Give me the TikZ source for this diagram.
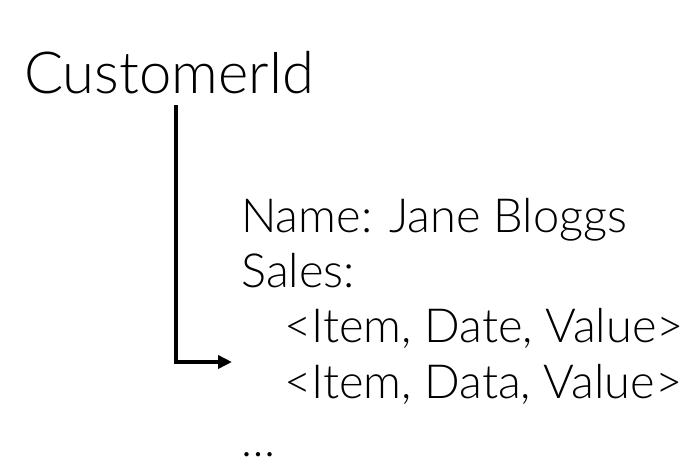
\documentclass[tikz,border=0pt]{standalone}
\usepackage{fontspec}
\setmainfont{Lato}[UprightFont={* Light}]
\usepackage{xcolor}
\usepackage{tikz}
\usetikzlibrary{arrows.meta}

\begin{document}
\begin{tikzpicture}[x=1pt,y=-1pt,
  bigtext/.style={anchor=base west,inner sep=0pt,font=\fontsize{58}{70}\selectfont},
  rectext/.style={anchor=base west,inner sep=0pt,font=\fontsize{47}{55}\selectfont},
  link/.style={line width=4.5pt,-{Triangle[length=14pt,width=13pt]}}]
\useasboundingbox (0,0) rectangle (697,469);
\node[bigtext] (cust) at (24,93) {CustomerId};
\node[rectext] (name) at (241,232) {Name: Jane Bloggs};
\node[rectext] (sales) at (241,287) {Sales:};
\node[rectext] (item1) at (284,342) {<Item, Date, Value>};
\node[rectext] (item2) at (284,398) {<Item, Data, Value>};
\node[rectext] (more) at (241,456) {\dots};
\coordinate (top) at (176,105);
\coordinate (tip) at (232,362);
\draw[link] (top) |- (tip);
\end{tikzpicture}
\end{document}
